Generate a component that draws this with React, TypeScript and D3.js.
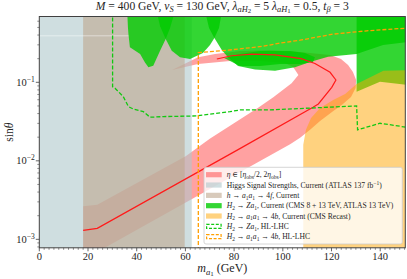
import React from 'react';
import * as d3 from 'd3';

const W = 407;
const H = 279;
const FONT = '"Liberation Serif", "DejaVu Serif", serif';

// plot box in pixels
const box = { left: 39.3, right: 405.3, top: 16.5, bottom: 247.8 };

const massDomain = [0, 150.3];
const sinDomain = [7.8e-4, 0.689];

const TOP = 0.8;
const BOT = 5e-4;

const xTicks = [0, 20, 40, 60, 80, 100, 120, 140];
const yTicks = [1e-3, 1e-2, 1e-1];
const yTickExp = ['−3', '−2', '−1'];

// [m_a1 (GeV), sin theta]
const etaLine = [
  [18, 1.3e-3], [23.8, 1.38e-3], [82, 1.41e-2], [112.4, 4.81e-2], [114.6, 5.3e-2],
  [120.1, 8.63e-2], [121.8, 0.107], [119.4, 0.134], [113.2, 0.174], [107.5, 0.2],
  [96.8, 0.224], [87.2, 0.229], [79, 0.218], [72.9, 0.198],
];
const etaBandOuter = [
  [18, 6.3e-4], [23.8, 6.9e-4], [82, 7.06e-3], [103, 0.0163], [107.1, 0.0196],
  [111.2, 0.0248], [115.3, 0.0322], [120.2, 0.042], [124.7, 0.053], [128, 0.065],
  [129.9, 0.0847], [130.1, 0.107], [128.8, 0.135], [126.8, 0.166], [123.9, 0.198],
  [119.4, 0.222], [107.1, 0.243], [94.7, 0.257], [82.4, 0.25], [72.2, 0.229],
  [65.2, 0.209], [54.5, 0.143],
];
const etaBandInner = [
  [65.2, 0.171], [78.3, 0.187], [90.6, 0.187], [100.9, 0.176], [104.3, 0.155],
  [106.4, 0.124], [103.6, 0.097], [96.1, 0.0646], [90, 0.0479], [82, 0.0331],
  [70, 0.0191], [60.1, 0.0114], [23.8, 2.75e-3], [18, 2.63e-3],
];

const higgsSignalRange = [0, 62.6];
const h4fRange = [18, 59.7];

// H2 -> Z a1 current exclusion, several overlapping pieces
const za1Pieces = [
  [[36.1, TOP], [36.4, 0.5], [36.6, 0.411], [37.2, 0.279], [41.4, 0.229], [43.4, 0.179],
    [44.8, 0.155], [46.8, 0.163], [49.6, 0.252], [51.9, 0.355], [53.7, 0.49], [55.7, TOP]],
  [[48.2, TOP], [49.6, 0.519], [51.9, 0.355], [54.4, 0.252], [57.8, 0.208], [61.9, 0.198],
    [67.2, 0.236], [70.1, 0.298], [71.9, 0.366], [73.8, 0.49], [75, TOP]],
  [[68.1, TOP], [69.7, 0.49], [71.9, 0.366], [75, 0.257], [77.5, 0.209], [81.6, 0.161],
    [88.6, 0.146], [96.8, 0.14], [105, 0.155], [111.2, 0.181], [118.6, 0.211],
    [130.3, 0.229], [141.2, 0.298], [151, 0.325], [151, TOP]],
  [[75.9, 0.204], [82.4, 0.229], [90.6, 0.25], [102.9, 0.25], [109.1, 0.236], [113.2, 0.209],
    [112.4, 0.181], [107.1, 0.171], [98.9, 0.171], [90.6, 0.161], [82.4, 0.161]],
  [[130.3, TOP], [130.3, 0.076], [139.9, 0.102], [151, 0.0925], [151, TOP]],
];

// H2 -> a1 a1 -> 4b current (CMS recast)
const a4bCurrent = [
  [108.4, BOT], [108.4, 0.016], [109.5, 0.0248], [111.6, 0.0352], [115.3, 0.0471],
  [120.7, 0.0596], [125.6, 0.071], [130.3, 0.095], [141.3, 0.14], [151, 0.143], [151, BOT],
];

const za1HL = [
  [30.1, TOP], [30.1, 0.0879], [31.1, 0.084], [34.5, 0.0656], [36.6, 0.049], [38.5, 0.0458],
  [42.7, 0.0423], [45.5, 0.0359], [50.9, 0.0366], [64.6, 0.0373], [78.3, 0.0423],
  [82.4, 0.0445], [94.7, 0.0445], [130.3, 0.05], [130.7, 0.0248], [139.9, 0.0301], [151, 0.0267],
];
const a4bHL = [
  [65.3, BOT], [65.3, 0.239], [77.6, 0.257], [91.3, 0.286], [98.2, 0.313], [107.1, 0.344],
  [120.7, 0.411], [134.5, 0.453], [151, 0.49],
];

const seam = [[0, 0.391], [37, 0.391]];

const COL = {
  pink: 'rgba(255,0,0,0.37)',
  blue: 'rgba(175,200,203,0.6)',
  brown: 'rgba(190,167,141,0.6)',
  green: 'rgba(0,204,0,0.8)',
  orange: 'rgba(255,165,0,0.5)',
  red: '#ff1a1a',
  gdash: '#11c811',
  odash: '#ff9f00',
  ink: '#262626',
};

const LVL = { n: 0, i: 0, sub: -1, isub: -1, sup: 1, subsub: -2 };
const OFF = { 0: 0, '-1': 0.22, 1: -0.38, '-2': 0.34 };
const SCL = { 0: 1, '-1': 0.72, 1: 0.72, '-2': 0.58 };

const Rich = ({ parts, x, y, size, anchor = 'start', transform = undefined }) => {
  let prev = 0;
  return (
    <text x={x} y={y} fontSize={size} textAnchor={anchor} fontFamily={FONT} fill={COL.ink} transform={transform}>
      {parts.map(([t, s], i) => {
        const l = LVL[s];
        const off = OFF[l] * size;
        const dy = off - prev;
        prev = off;
        return (
          <tspan key={i} dy={dy} fontStyle={s.includes('i') ? 'italic' : 'normal'} fontSize={size * SCL[l]}>{t}</tspan>
        );
      })}
    </text>
  );
};

const title = [['M', 'i'], [' = 400 GeV, ', 'n'], ['v', 'i'], ['S', 'isub'], [' = 130 GeV, ', 'n'],
  ['λ', 'i'], ['aH', 'isub'], ['2', 'subsub'], [' = 5 ', 'n'], ['λ', 'i'], ['aH', 'isub'], ['1', 'subsub'],
  [' = 0.5, ', 'n'], ['t', 'i'], ['β', 'isub'], [' = 3', 'n']];

const legendItems = [
  { kind: 'fill', color: COL.pink, label: [['η', 'i'], [' ∈ [', 'n'], ['η', 'i'], ['obs', 'sub'], ['/2, 2', 'n'], ['η', 'i'], ['obs', 'sub'], [']', 'n']] },
  { kind: 'fill', color: COL.blue, label: [['Higgs Signal Strengths, Current (ATLAS 137 fb', 'n'], ['−1', 'sup'], [')', 'n']] },
  { kind: 'fill', color: COL.brown, label: [['h', 'i'], [' → ', 'n'], ['a', 'i'], ['1', 'sub'], ['a', 'i'], ['1', 'sub'], [' → 4', 'n'], ['f', 'i'], [', Current', 'n']] },
  { kind: 'fill', color: COL.green, label: [['H', 'i'], ['2', 'sub'], [' → ', 'n'], ['Za', 'i'], ['1', 'sub'], [', Current (CMS 8 + 13 TeV, ATLAS 13 TeV)', 'n']] },
  { kind: 'fill', color: COL.orange, label: [['H', 'i'], ['2', 'sub'], [' → ', 'n'], ['a', 'i'], ['1', 'sub'], ['a', 'i'], ['1', 'sub'], [' → 4', 'n'], ['b', 'i'], [', Current (CMS Recast)', 'n']] },
  { kind: 'dash', color: COL.gdash, label: [['H', 'i'], ['2', 'sub'], [' → ', 'n'], ['Za', 'i'], ['1', 'sub'], [', HL-LHC', 'n']] },
  { kind: 'dash', color: COL.odash, label: [['H', 'i'], ['2', 'sub'], [' → ', 'n'], ['a', 'i'], ['1', 'sub'], ['a', 'i'], ['1', 'sub'], [' → 4', 'n'], ['b', 'i'], [', HL-LHC', 'n']] },
];

export default function App() {
  const x = d3.scaleLinear().domain(massDomain).range([box.left, box.right]);
  const y = d3.scaleLog().domain(sinDomain).range([box.bottom, box.top]);
  const line = d3.line().x(d => x(d[0])).y(d => y(d[1]));
  const poly = pts => line(pts) + 'Z';

  const band = poly([...etaBandOuter, ...etaBandInner]);

  const minorX = d3.range(0, 151, 2).filter(v => v % 20 !== 0);
  const minorY = [];
  [-4, -3, -2, -1].forEach(e => {
    for (let k = 2; k <= 9; k++) {
      const v = k * Math.pow(10, e);
      if (v >= sinDomain[0] && v <= sinDomain[1]) minorY.push(v);
    }
  });

  const lg = { x: 204, y: 167.3, w: 198.3, h: 76.7, row0: 174.7, dy: 10.33, sx: 206, sw: 15.7, sh: 5.2, tx: 226.7 };

  return (
    <svg width={W} height={H} style={{ position: 'absolute', left: 0, top: 0, background: '#fff' }}>
      <defs>
        <clipPath id="plot">
          <rect x={box.left} y={box.top} width={box.right - box.left} height={box.bottom - box.top} />
        </clipPath>
      </defs>

      <g clipPath="url(#plot)">
        <path d={band} fill={COL.pink} />
        <rect x={x(higgsSignalRange[0])} y={box.top} width={x(higgsSignalRange[1]) - x(higgsSignalRange[0])} height={box.bottom - box.top} fill={COL.blue} />
        <rect x={x(h4fRange[0])} y={box.top} width={x(h4fRange[1]) - x(h4fRange[0])} height={box.bottom - box.top} fill={COL.brown} />
        <path d={line(seam)} stroke="#fff" strokeOpacity={0.6} strokeWidth={0.8} fill="none" />
        {za1Pieces.map((p, i) => <path key={i} d={poly(p)} fill={COL.green} />)}
        <path d={poly(a4bCurrent)} fill={COL.orange} />
        <path d={line(etaLine)} stroke={COL.red} strokeWidth={1.2} fill="none" />
        <path d={line(za1HL)} stroke={COL.gdash} strokeWidth={1.3} strokeDasharray="4,2" fill="none" />
        <path d={line(a4bHL)} stroke={COL.odash} strokeWidth={1.3} strokeDasharray="4,2" fill="none" />
      </g>

      {/* legend */}
      <rect x={lg.x} y={lg.y} width={lg.w} height={lg.h} rx={2} fill="#fff" fillOpacity={0.8} stroke="#cccccc" strokeWidth={0.8} />
      {legendItems.map((it, i) => {
        const cy = lg.row0 + i * lg.dy;
        return (
          <g key={i}>
            {it.kind === 'fill'
              ? <rect x={lg.sx} y={cy - lg.sh / 2} width={lg.sw} height={lg.sh} fill={it.color} />
              : <rect x={lg.sx + 0.6} y={cy - lg.sh / 2 + 0.6} width={lg.sw - 1.2} height={lg.sh - 1.2} fill="none" stroke={it.color} strokeWidth={1.2} strokeDasharray="3,1.6" />}
            <Rich parts={it.label} x={lg.tx} y={cy + 2.5} size={7.6} />
          </g>
        );
      })}

      {/* frame */}
      <rect x={box.left} y={box.top} width={box.right - box.left} height={box.bottom - box.top} fill="none" stroke="#404040" strokeWidth={1} />

      {/* x axis */}
      {xTicks.map(v => (
        <g key={'x' + v}>
          <line x1={x(v)} x2={x(v)} y1={box.bottom} y2={box.bottom + 3.5} stroke="#404040" strokeWidth={0.8} />
          <text x={x(v)} y={260} fontSize={10.5} textAnchor="middle" fontFamily={FONT} fill={COL.ink}>{v}</text>
        </g>
      ))}
      {minorX.map(v => (
        <line key={'mx' + v} x1={x(v)} x2={x(v)} y1={box.bottom} y2={box.bottom + 2} stroke="#404040" strokeWidth={0.6} />
      ))}

      {/* y axis */}
      {yTicks.map((v, i) => (
        <g key={'y' + v}>
          <line x1={box.left - 3.5} x2={box.left} y1={y(v)} y2={y(v)} stroke="#404040" strokeWidth={0.8} />
          <Rich parts={[['10', 'n'], [yTickExp[i], 'sup']]} x={box.left - 4.5} y={y(v) + 3.5} size={10.5} anchor="end" />
        </g>
      ))}
      {minorY.map(v => (
        <line key={'my' + v} x1={box.left - 2} x2={box.left} y1={y(v)} y2={y(v)} stroke="#404040" strokeWidth={0.6} />
      ))}

      <Rich parts={[['m', 'i'], ['a', 'isub'], ['1', 'subsub'], [' (GeV)', 'n']]} x={(box.left + box.right) / 2} y={272} size={12} anchor="middle" />
      <Rich parts={[['sin', 'n'], ['θ', 'i']]} x={0} y={0} size={11.5} anchor="middle"
        transform={`translate(13,${(box.top + box.bottom) / 2}) rotate(-90)`} />

      <Rich parts={title} x={(box.left + box.right) / 2} y={9.5} size={11.6} anchor="middle" />
    </svg>
  );
}
